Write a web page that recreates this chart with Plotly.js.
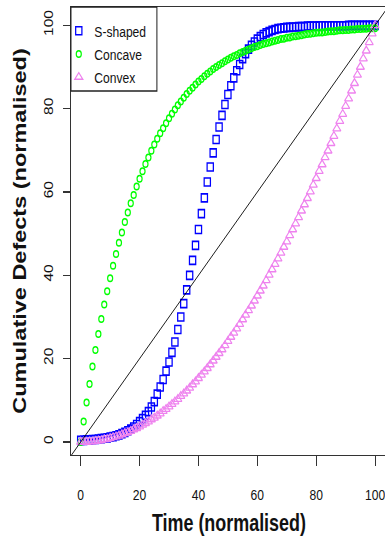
<!DOCTYPE html>
<html>
<head>
<meta charset="utf-8">
<script src="https://cdn.plot.ly/plotly-3.0.1.min.js"></script>
<style>
  html, body { margin: 0; padding: 0; background: #fff; overflow: hidden; width: 385px; height: 540px; }
  /* chart is laid out wider, then squeezed horizontally into the page */
  #chart { width: 500px; height: 540px; transform: scaleX(0.78); transform-origin: 0 0; }
</style>
</head>
<body>
<div id="chart"></div>
<script>
// Time axis (normalised, 0..100)
const timePoints = [0,1,2,3,4,5,6,7,8,9,10,11,12,13,14,15,16,17,18,19,20,21,22,23,24,25,26,27,28,29,30,31,32,33,34,35,36,37,38,39,40,41,42,43,44,45,46,47,48,49,50,51,52,53,54,55,56,57,58,59,60,61,62,63,64,65,66,67,68,69,70,71,72,73,74,75,76,77,78,79,80,81,82,83,84,85,86,87,88,89,90,91,92,93,94,95,96,97,98,99,100];

// Cumulative defects (normalised) for each growth shape
const sShaped = [0.4,0.4,0.5,0.5,0.6,0.6,0.7,0.8,0.9,1.0,1.2,1.3,1.5,1.7,2.0,2.3,2.7,3.1,3.6,4.2,4.9,5.6,6.4,7.3,8.4,9.7,11.5,13.2,15.0,17.0,19.2,21.5,24.0,27.0,30.0,33.2,36.5,40.0,43.6,47.2,51.0,54.8,58.6,62.4,66.0,69.4,72.6,75.6,78.4,81.0,83.4,85.5,87.4,89.1,90.6,92.0,93.2,94.3,95.2,96.0,96.7,97.3,97.8,98.2,98.5,98.8,99.0,99.2,99.3,99.4,99.5,99.5,99.6,99.6,99.7,99.7,99.7,99.8,99.8,99.8,99.8,99.9,99.9,99.9,99.9,99.9,99.9,99.9,99.9,99.9,99.9,100,100,100,100,100,100,100,100,100,100];

const concave = [0.0,4.9,9.5,13.9,18.1,22.1,25.9,29.5,33.0,36.2,39.3,42.3,45.1,47.8,50.3,52.8,55.1,57.3,59.3,61.3,63.2,65.0,66.7,68.3,69.9,71.4,72.8,74.1,75.3,76.5,77.7,78.8,79.8,80.8,81.7,82.6,83.5,84.3,85.0,85.8,86.5,87.1,87.8,88.4,88.9,89.5,90.0,90.5,90.9,91.4,91.8,92.2,92.6,92.9,93.3,93.6,93.9,94.2,94.5,94.8,95.0,95.3,95.5,95.7,95.9,96.1,96.3,96.5,96.7,96.8,97.0,97.1,97.3,97.4,97.5,97.6,97.8,97.9,98.0,98.1,98.2,98.3,98.3,98.4,98.5,98.6,98.6,98.7,98.8,98.8,98.9,98.9,99.0,99.0,99.1,99.1,99.2,99.2,99.3,99.3,99.3];

const convex = [0.0,0.0,0.0,0.1,0.1,0.2,0.3,0.4,0.6,0.7,0.9,1.1,1.3,1.5,1.8,2.1,2.3,2.6,3.0,3.3,3.7,4.1,4.5,4.9,5.4,5.8,6.3,6.8,7.4,7.9,8.5,9.1,9.7,10.3,11.0,11.6,12.3,13.0,13.8,14.5,15.3,16.1,16.9,17.7,18.6,19.5,20.4,21.3,22.2,23.2,24.2,25.2,26.2,27.2,28.3,29.4,30.5,31.6,32.7,33.9,35.1,36.3,37.5,38.8,40.1,41.4,42.7,44.0,45.4,46.8,48.1,49.6,51.0,52.4,53.9,55.5,57.0,58.5,60.1,61.7,63.3,65.0,66.6,68.3,69.9,71.7,73.4,75.2,77.0,78.7,80.6,82.4,84.3,86.1,88.1,90.0,92.0,93.9,95.9,98.0,100.0];

const seriesNames = ['S-shaped', 'Concave', 'Convex'];
const tickValues = [0, 20, 40, 60, 80, 100];
const tickLabels = ['0', '20', '40', '60', '80', '100'];

// y = x reference diagonal (clipped to the plotting region)
const diagonalX = [-10, 110];
const diagonalY = [-10, 110];

const traces = [
  {
    x: timePoints, y: sShaped, name: seriesNames[0], type: 'scatter', mode: 'markers',
    marker: { symbol: 'square-open', color: '#0000FF', size: 8, line: { width: 1.6 } }
  },
  {
    x: timePoints, y: concave, name: seriesNames[1], type: 'scatter', mode: 'markers',
    marker: { symbol: 'circle-open', color: '#00FF00', size: 6.5, line: { width: 1.5 } }
  },
  {
    x: timePoints, y: convex, name: seriesNames[2], type: 'scatter', mode: 'markers',
    marker: { symbol: 'triangle-up-open', color: '#EE82EE', size: 9, line: { width: 1.4 } }
  },
  {
    x: diagonalX, y: diagonalY, type: 'scatter', mode: 'lines', showlegend: false,
    line: { color: '#000000', width: 1 }, hoverinfo: 'skip'
  }
];

const axisCommon = {
  tickmode: 'array', tickvals: tickValues, ticktext: tickLabels,
  ticks: 'outside', ticklen: 9.5, tickwidth: 1.3, tickcolor: '#333',
  showline: true, mirror: true, linecolor: '#333', linewidth: 1.3,
  showgrid: false, zeroline: false,
  tickfont: { size: 15.5, color: '#111' }
};

const layout = {
  width: 500, height: 540,
  margin: { l: 91, r: 4, t: 7, b: 85 },
  paper_bgcolor: '#ffffff', plot_bgcolor: '#ffffff',
  font: { family: '"Liberation Sans", Arial, sans-serif', color: '#111' },
  showlegend: true,
  xaxis: Object.assign({}, axisCommon, {
    range: [-3.3, 104],
    ticklabelstandoff: 16,
    title: { text: 'Time (normalised)', font: { size: 23, weight: 'bold', color: '#111' }, standoff: 12 }
  }),
  yaxis: Object.assign({}, axisCommon, {
    range: [-3.12, 104.4],
    tickangle: -90,
    ticklabelstandoff: 6,
    title: { text: 'Cumulative Defects (normalised)', font: { size: 23.5, weight: 'bold', color: '#111' }, standoff: 13 }
  }),
  legend: {
    x: 0, y: 0.984, xanchor: 'left', yanchor: 'top',
    bgcolor: 'rgba(0,0,0,0)', borderwidth: 0,
    font: { size: 15.5, color: '#111' },
    itemwidth: 30, indentation: -10
  },
  shapes: [
    {
      type: 'rect', xref: 'x domain', yref: 'y domain',
      x0: 0, x1: 0.272, y0: 0.8125, y1: 1,
      line: { color: '#222', width: 1.3 }, fillcolor: 'rgba(0,0,0,0)'
    }
  ]
};

Plotly.newPlot('chart', traces, layout, { staticPlot: true, displayModeBar: false });
</script>
</body>
</html>
